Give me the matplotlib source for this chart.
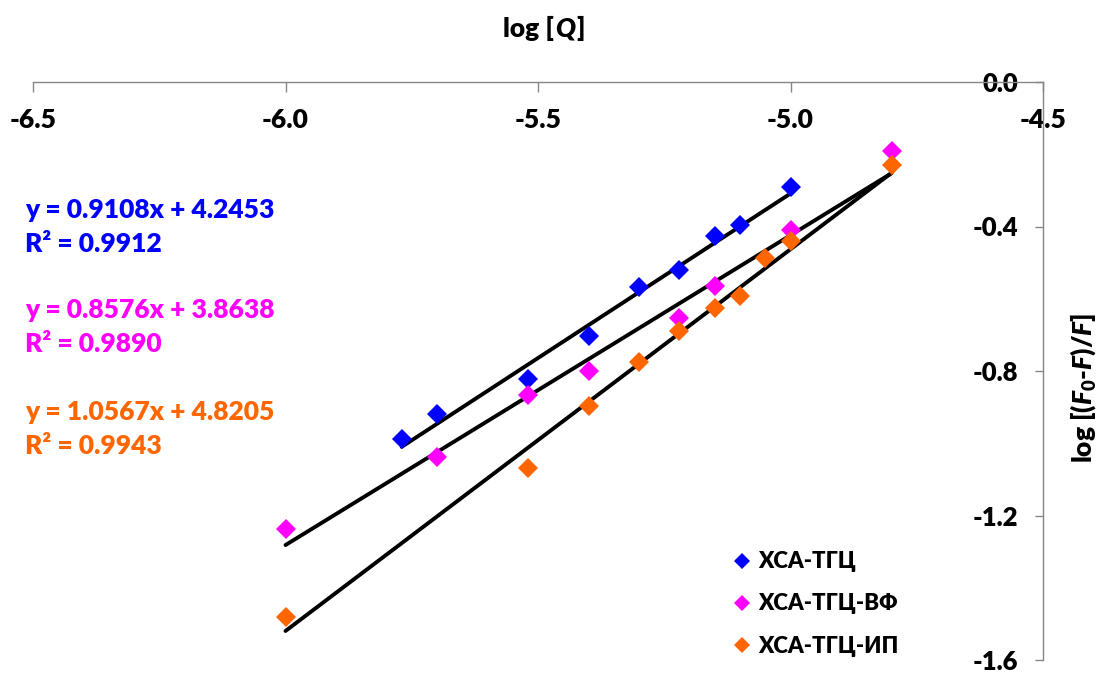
import matplotlib
matplotlib.use('Agg')
import matplotlib.pyplot as plt
from matplotlib.offsetbox import TextArea, HPacker, AnchoredOffsetbox
import numpy as np

plt.rcParams['font.family'] = ['Lato', 'DejaVu Sans']
plt.rcParams['font.weight'] = 'heavy'
plt.rcParams['axes.unicode_minus'] = False
plt.rcParams['mathtext.fontset'] = 'custom'
plt.rcParams['mathtext.rm'] = 'Lato:heavy'
plt.rcParams['mathtext.it'] = 'Lato:italic:heavy'

# data
names = ['ХСА-ТГЦ', 'ХСА-ТГЦ-ВФ', 'ХСА-ТГЦ-ИП']
colors = ['#0000FF', '#FF00FF', '#FF6600']

x_blue = [-5.77, -5.70, -5.52, -5.40, -5.30, -5.22, -5.15, -5.10, -5.00]
y_blue = [-0.988, -0.919, -0.822, -0.703, -0.568, -0.521, -0.425, -0.397, -0.292]

x_pink = [-6.00, -5.70, -5.52, -5.40, -5.22, -5.15, -5.00, -4.80]
y_pink = [-1.236, -1.037, -0.866, -0.800, -0.654, -0.566, -0.411, -0.190]

x_orange = [-6.00, -5.52, -5.40, -5.30, -5.22, -5.15, -5.10, -5.05, -5.00, -4.80]
y_orange = [-1.481, -1.068, -0.897, -0.775, -0.690, -0.626, -0.593, -0.488, -0.441, -0.229]

slopes = [0.9108, 0.8576, 1.0567]
intercepts = [4.2453, 3.8638, 4.8205]
r2 = ['0.9912', '0.9890', '0.9943']

xticks = [-6.5, -6.0, -5.5, -5.0, -4.5]
yticks = [0.0, -0.4, -0.8, -1.2, -1.6]

fig = plt.figure(figsize=(11.02, 6.73), dpi=100)
ax = fig.add_axes([33/1102, 13/673, 1010/1102, 578/673])

series = [(x_blue, y_blue), (x_pink, y_pink), (x_orange, y_orange)]
handles = []
for (xs, ys), c, name, k, b in zip(series, colors, names, slopes, intercepts):
    h, = ax.plot(xs, ys, 'D', color=c, markersize=10, markeredgewidth=0, label=name, zorder=3)
    handles.append(h)
    xl = np.array([min(xs), max(xs)])
    ax.plot(xl, k * xl + b, color='black', lw=2.8, solid_capstyle='round', zorder=2)

ax.set_xlim(-6.5, -4.5)
ax.set_ylim(-1.6, 0)

# axes cross at the top right corner like the Excel chart
ax.spines['bottom'].set_position(('data', 0))
ax.spines['left'].set_position(('data', -4.5))
ax.spines['top'].set_visible(False)
ax.spines['right'].set_visible(False)
for s in ('bottom', 'left'):
    ax.spines[s].set_color('#868686')
    ax.spines[s].set_linewidth(1)

ax.set_xticks(xticks)
ax.set_xticklabels([f'{t:.1f}' for t in xticks])
ax.set_yticks(yticks)
ax.set_yticklabels([f'{t:.1f}' for t in yticks])
ax.tick_params(axis='x', direction='out', length=7, width=1, color='#868686',
               pad=12, labelsize=19)
ax.tick_params(axis='y', direction='out', length=6, width=1, color='#868686',
               pad=12, labelsize=18.5)

# x axis title with an italic Q
tprops = dict(fontsize=19, fontweight='heavy')
parts = [TextArea('log [', textprops=tprops),
         TextArea('Q', textprops=dict(tprops, fontstyle='italic')),
         TextArea(']', textprops=tprops)]
title = AnchoredOffsetbox(loc='center', child=HPacker(children=parts, pad=0, sep=1),
                          frameon=False, pad=0, borderpad=0,
                          bbox_to_anchor=(544/1102, 1 - 28/673),
                          bbox_transform=fig.transFigure)
fig.add_artist(title)

fig.text(1083/1102, 1 - 388/673, r'log [($\mathit{F}_0$-$\mathit{F}$)/$\mathit{F}$]',
         rotation=90, ha='center', va='center', fontsize=19)

eq_y = [210, 310, 412]
for c, k, b, r, yy in zip(colors, slopes, intercepts, r2, eq_y):
    fig.text(25/1102, 1 - yy/673, f'y = {k:.4f}x + {b:.4f}', color=c,
             fontsize=19, va='center', ha='left')
    fig.text(25/1102, 1 - (yy + 34)/673, f'R² = {r}', color=c,
             fontsize=19, va='center', ha='left')

ax.legend(handles=handles, loc='center left', bbox_to_anchor=(0.683, 0.097),
          frameon=False, borderpad=0, handlelength=0.7, handletextpad=0.4,
          labelspacing=0.95, markerscale=0.85, prop={'size': 16, 'weight': 'heavy'})

fig.savefig('out.png', dpi=100)
